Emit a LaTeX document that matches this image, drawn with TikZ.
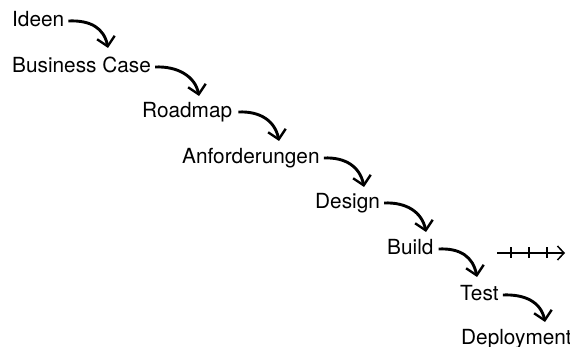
\documentclass[tikz,border=0pt]{standalone}
\usepackage{fontspec}
\setmainfont{TeX Gyre Heros}
\usetikzlibrary{arrows.meta}
\begin{document}
\begin{tikzpicture}[x=1pt,y=-1pt,
  stage/.style={anchor=base west,inner sep=0pt,text height=15pt,text depth=3pt,
    font=\fontsize{20.8}{24}\selectfont},
  flow/.style={line width=2.9pt,-{Straight Barb[length=9pt,width=18pt,line width=2.4pt]}},
  ticked/.style={line width=1.5pt,-{Straight Barb[length=6.5pt,width=14pt,line width=1.5pt]}}]
  \useasboundingbox (0,0) rectangle (570,347);

  % the stages, top left to bottom right
  \node[stage] (ideen)    at (12,27)  {Ideen};
  \node[stage] (business) at (12,73)  {Business Case};
  \node[stage] (roadmap)  at (142,118) {Roadmap};
  \node[stage] (anf)      at (182,164) {Anforderungen};
  \node[stage] (design)   at (315,209) {Design};
  \node[stage] (build)    at (387,255) {Build};
  \node[stage] (test)     at (460,301) {Test};
  \node[stage] (deploy)   at (461,344) {Deployment};

  % tips of the curved arrows
  \coordinate (t1) at (108,48);
  \coordinate (t2) at (199,96);
  \coordinate (t3) at (279,141);
  \coordinate (t4) at (364,187);
  \coordinate (t5) at (426,232);
  \coordinate (t6) at (477,277);
  \coordinate (t7) at (545,322);

  \draw[flow] ([xshift=4pt]ideen.east)    .. controls +(22,-1) and +(-4,-20) .. (t1);
  \draw[flow] ([xshift=4pt]business.east) .. controls +(22,-1) and +(-4,-20) .. (t2);
  \draw[flow] ([xshift=6pt]roadmap.east)  .. controls +(22,-1) and +(-4,-20) .. (t3);
  \draw[flow] ([xshift=4pt]anf.east)      .. controls +(22,-1) and +(-4,-20) .. (t4);
  \draw[flow] ([xshift=4pt]design.east)   .. controls +(22,-1) and +(-4,-20) .. (t5);
  \draw[flow] ([xshift=5pt]build.east)    .. controls +(22,-1) and +(-4,-20) .. (t6);
  \draw[flow] ([xshift=4pt]test.east)     .. controls +(22,-1) and +(-4,-20) .. (t7);

  % ticked time line
  \coordinate (ls) at (497,253);
  \coordinate (le) at (565,253);
  \draw[ticked] (ls) -- (le);
  \foreach \tx in {511,529,547}
    \draw[line width=1.5pt] (\tx,247.5) -- (\tx,258.5);
\end{tikzpicture}
\end{document}
